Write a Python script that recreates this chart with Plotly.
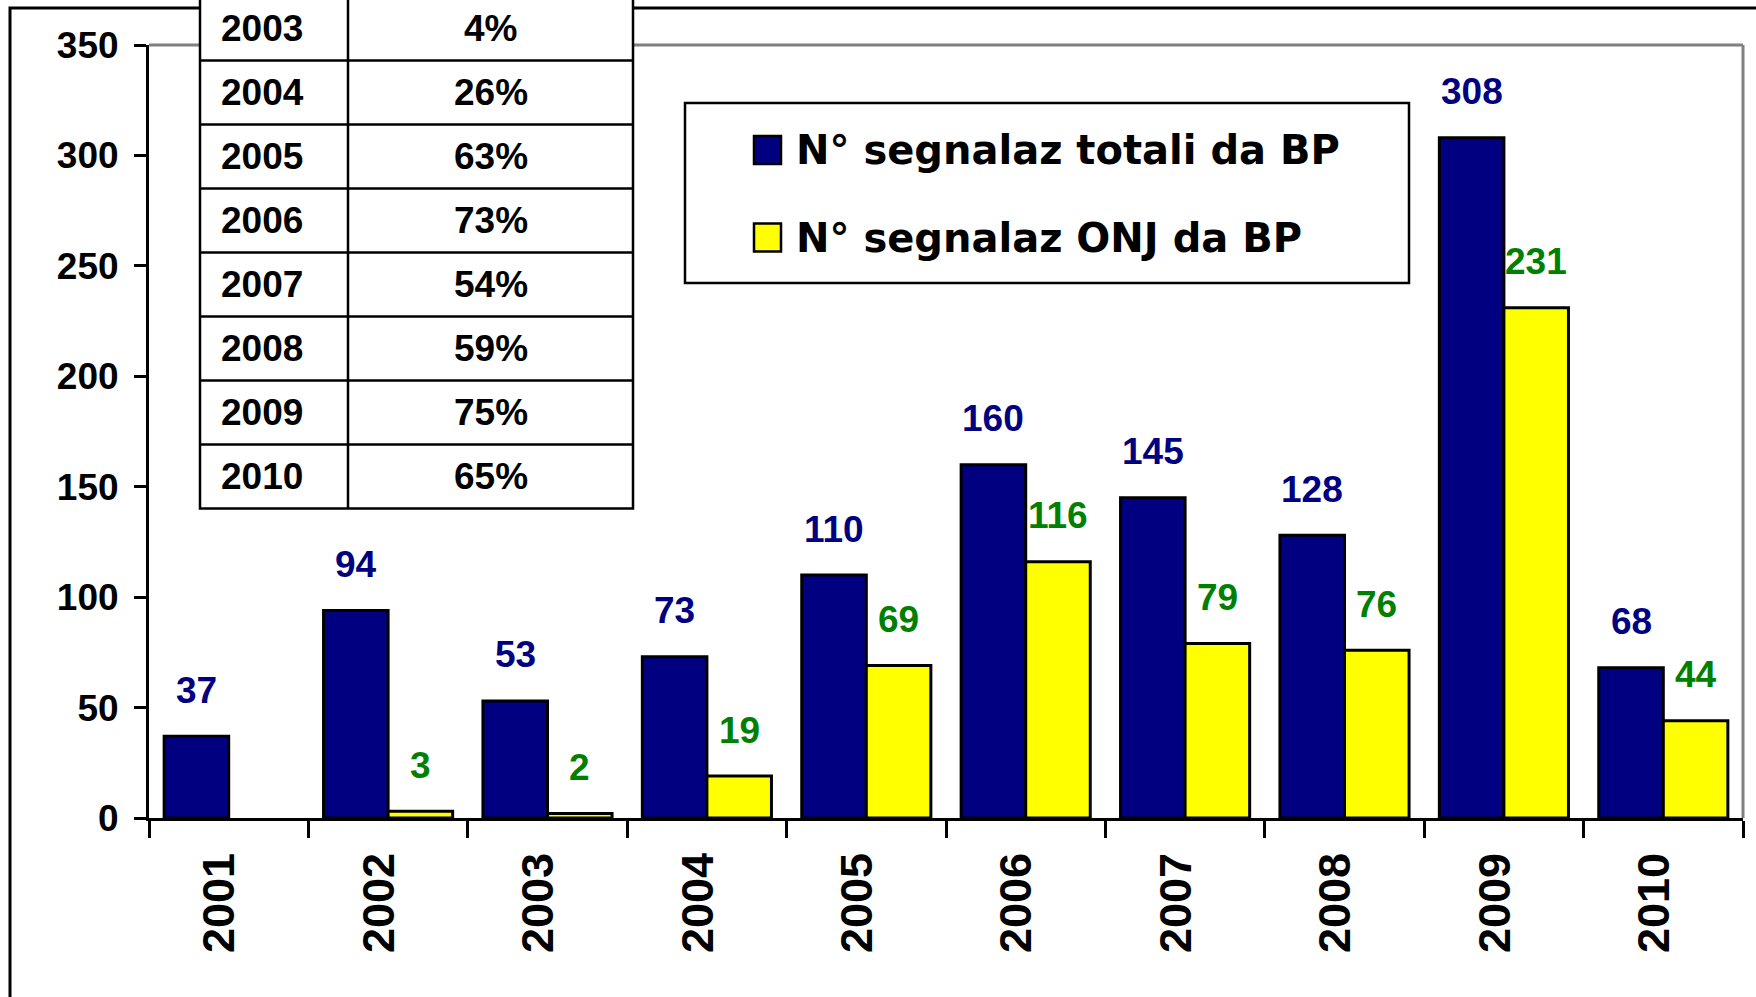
import plotly.graph_objects as go

# ---------------- data ----------------
years = ["2001", "2002", "2003", "2004", "2005", "2006", "2007", "2008", "2009", "2010"]
totali = [37, 94, 53, 73, 110, 160, 145, 128, 308, 68]
onj = [None, 3, 2, 19, 69, 116, 79, 76, 231, 44]
name_totali = "N° segnalaz totali da BP"
name_onj = "N° segnalaz ONJ da BP"

table_years = ["2003", "2004", "2005", "2006", "2007", "2008", "2009", "2010"]
table_pct = ["4%", "26%", "63%", "73%", "54%", "59%", "75%", "65%"]

y_ticks = [0, 50, 100, 150, 200, 250, 300, 350]

# ---------------- style / layout ----------------
W, H = 1756, 997
L, R, T, B = 149, 13, 45, 179
PW, PH = W - L - R, H - T - B
FONT = "Liberation Sans, Arial, sans-serif"
WIDE = "DejaVu Sans, Verdana, sans-serif"
NAVY = "#000080"
YELLOW = "#FFFF00"
GREEN = "#008000"
BARGAP = 0.19


def px(x):
    return (x - L) / PW


def py(y):
    return (H - B - y) / PH


fig = go.Figure()
fig.add_trace(go.Bar(x=years, y=totali, name=name_totali,
                     marker=dict(color=NAVY, line=dict(color="black", width=3)),
                     showlegend=False))
fig.add_trace(go.Bar(x=years, y=onj, name=name_onj,
                     marker=dict(color=YELLOW, line=dict(color="black", width=3)),
                     showlegend=False))

# data labels (x given as category index on the category axis)
bar_px = PW / len(years) * (1 - BARGAP) / 2
annotations = []
for i, v in enumerate(totali):
    if v is not None:
        annotations.append(dict(x=i, y=v, xref="x", yref="y", text=str(v),
                                showarrow=False, xshift=-bar_px / 2, yshift=46,
                                yanchor="middle",
                                font=dict(family=FONT, size=37, color=NAVY, weight="bold")))
for i, v in enumerate(onj):
    if v is not None:
        annotations.append(dict(x=i, y=v, xref="x", yref="y", text=str(v),
                                showarrow=False, xshift=bar_px / 2, yshift=46,
                                yanchor="middle",
                                font=dict(family=FONT, size=37, color=GREEN, weight="bold")))

shapes = []
# outer black frame (left + top edges visible)
shapes.append(dict(type="rect", xref="paper", yref="paper",
                   x0=px(10), x1=px(W + 20), y0=py(8), y1=py(H + 20),
                   line=dict(color="black", width=3), fillcolor="rgba(0,0,0,0)", layer="below"))
# gray plot-area border (top + right)
shapes.append(dict(type="line", xref="paper", yref="paper", x0=0, x1=1, y0=1, y1=1,
                   line=dict(color="#808080", width=3), layer="below"))
shapes.append(dict(type="line", xref="paper", yref="paper", x0=1, x1=1, y0=0, y1=1,
                   line=dict(color="#808080", width=3), layer="below"))

# ---- legend box (manual, to match large symbols) ----
shapes.append(dict(type="rect", xref="paper", yref="paper",
                   x0=px(685), x1=px(1409), y0=py(103), y1=py(283),
                   line=dict(color="black", width=2.5), fillcolor="white", layer="above"))
for (yc, col, nm) in [(150, NAVY, name_totali), (237.5, YELLOW, name_onj)]:
    shapes.append(dict(type="rect", xref="paper", yref="paper",
                       x0=px(754), x1=px(781), y0=py(yc - 14), y1=py(yc + 14),
                       line=dict(color="black", width=2.5), fillcolor=col, layer="above"))
    annotations.append(dict(x=px(794), y=py(yc), xref="paper", yref="paper", text=nm,
                            showarrow=False, xanchor="left", yanchor="middle",
                            font=dict(family=WIDE, size=40, color="black", weight="bold")))

# ---- table (top-left) ----
tx0, tx1, tdiv = 200, 633, 348
row_h = 64
first_line = 60.5
n = len(table_years)
bottom = first_line + row_h * (n - 1)
shapes.append(dict(type="rect", xref="paper", yref="paper",
                   x0=px(tx0), x1=px(tx1), y0=py(-60), y1=py(bottom),
                   line=dict(color="black", width=2.5), fillcolor="white", layer="above"))
shapes.append(dict(type="line", xref="paper", yref="paper",
                   x0=px(tdiv), x1=px(tdiv), y0=py(-60), y1=py(bottom),
                   line=dict(color="black", width=2.5), layer="above"))
for k in range(n - 1):
    yl = first_line + row_h * k
    shapes.append(dict(type="line", xref="paper", yref="paper",
                       x0=px(tx0), x1=px(tx1), y0=py(yl), y1=py(yl),
                       line=dict(color="black", width=2.5), layer="above"))
for k, (yr, pc) in enumerate(zip(table_years, table_pct)):
    yc = first_line - row_h / 2 + row_h * k
    annotations.append(dict(x=px(219), y=py(yc), xref="paper", yref="paper", text=yr,
                            showarrow=False, xanchor="left", yanchor="middle",
                            font=dict(family=FONT, size=37, color="black", weight="bold")))
    annotations.append(dict(x=px((tdiv + tx1) / 2), y=py(yc), xref="paper", yref="paper", text=pc,
                            showarrow=False, xanchor="center", yanchor="middle",
                            font=dict(family=FONT, size=37, color="black", weight="bold")))

fig.update_layout(
    width=W, height=H,
    margin=dict(l=L, r=R, t=T, b=B, pad=0),
    paper_bgcolor="white", plot_bgcolor="white",
    barmode="group", bargap=BARGAP, bargroupgap=0,
    showlegend=False,
    shapes=shapes, annotations=annotations,
    font=dict(family=FONT, color="black"),
    xaxis=dict(type="category", range=[-0.5, len(years) - 0.5], showgrid=False, zeroline=False,
               showline=True, linecolor="black", linewidth=3,
               ticks="outside", tickson="boundaries", ticklen=17, tickwidth=3, tickcolor="black",
               tickangle=-90, ticklabelstandoff=14, ticklabelshift=-9,
               tickfont=dict(family=FONT, size=45, color="black", weight="bold")),
    yaxis=dict(range=[0, 350], tickvals=y_ticks, showgrid=False, zeroline=False,
               showline=True, linecolor="black", linewidth=3,
               ticks="outside", ticklen=12, tickwidth=3, tickcolor="black",
               ticklabelstandoff=8,
               tickfont=dict(family=FONT, size=37, color="black", weight="bold")),
)

fig.write_html("out.html", config={"displayModeBar": False},
               post_script="document.body.style.margin='0';")
